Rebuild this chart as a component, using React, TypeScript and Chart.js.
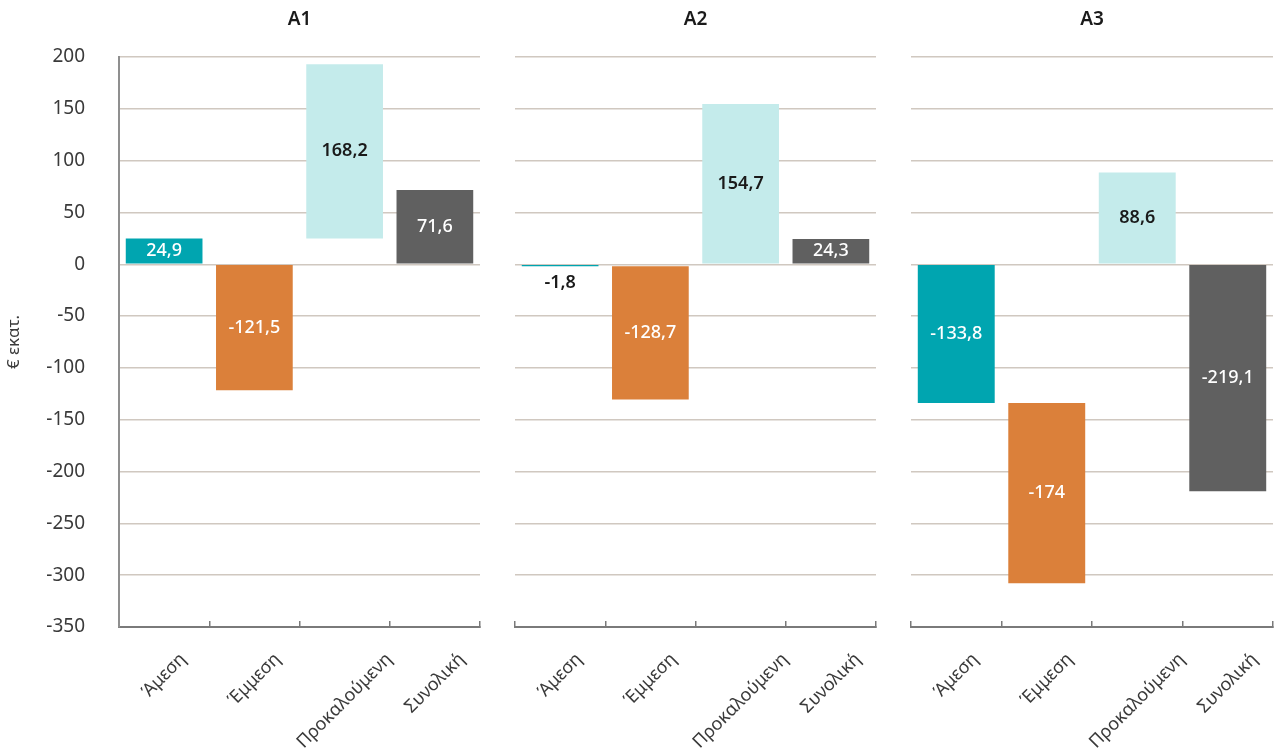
import React, { useEffect, useRef } from 'react';
import { Chart, registerables } from 'chart.js';

Chart.register(...registerables);

// ---------- data ----------
const categories = ['Άμεση', 'Έμμεση', 'Προκαλούμενη', 'Συνολική'];
const panelTitles = ['A1', 'A2', 'A3'];

const a1Values = [24.9, -121.5, 168.2, 71.6];
const a1Starts = [0, 0, 24.9, 0];

const a2Values = [-1.8, -128.7, 154.7, 24.3];
const a2Starts = [0, -1.8, 0, 0];

const a3Values = [-133.8, -174, 88.6, -219.1];
const a3Starts = [0, -133.8, 0, 0];

const yMin = -350;
const yMax = 200;
const yStep = 50;
const yAxisTitle = '€ εκατ.';

// ---------- styles ----------
const FONT = '"Noto Sans", "DejaVu Sans", sans-serif';
const BAR_COLORS = ['#00A5B0', '#DB803A', '#C4EBEB', '#606060'];
const LABEL_COLORS = ['#FFFFFF', '#FFFFFF', '#1A1A1A', '#FFFFFF'];
const TEXT_COLOR = '#3A3A3A';
const GRID_COLOR = '#D0C8C0';
const CANVAS_H = 754;
const PLOT_TOP = 57;
const PLOT_BOTTOM = 627;

const panels = [
  { title: panelTitles[0], values: a1Values, starts: a1Starts, left: 0, width: 490, yWidth: 119, padRight: 10, first: true },
  { title: panelTitles[1], values: a2Values, starts: a2Starts, left: 490, width: 396, yWidth: 25, padRight: 10, first: false },
  { title: panelTitles[2], values: a3Values, starts: a3Starts, left: 886, width: 388, yWidth: 25, padRight: 1, first: false },
];

const valueLabelPlugin = {
  id: 'valueLabels',
  afterDatasetsDraw(chart: any, _args: any, opts: any) {
    const { ctx } = chart;
    const meta = chart.getDatasetMeta(0);
    const values: number[] = opts.values || [];
    ctx.save();
    ctx.textAlign = 'center';
    ctx.textBaseline = 'middle';
    meta.data.forEach((el: any, i: number) => {
      const { x, y, base } = el.getProps(['x', 'y', 'base'], true);
      const h = Math.abs(base - y);
      const text = String(values[i]).replace('.', ',');
      let ty = (y + base) / 2;
      let color = LABEL_COLORS[i];
      if (h < 24) {
        ty = Math.max(y, base) + 17;
        color = '#1A1A1A';
      }
      ctx.font = color === '#1A1A1A' ? `600 18px ${FONT}` : `500 18px ${FONT}`;
      ctx.fillStyle = color;
      ctx.fillText(text, x, ty);
    });
    ctx.restore();
  },
};

// category labels, rotated 45° and centred under each category (as in the reference)
const xLabelPlugin = {
  id: 'xLabels',
  afterDraw(chart: any) {
    const { ctx } = chart;
    const xs = chart.scales.x;
    const labels: string[] = chart.data.labels;
    ctx.save();
    ctx.font = `18px ${FONT}`;
    ctx.fillStyle = TEXT_COLOR;
    ctx.textAlign = 'center';
    ctx.textBaseline = 'middle';
    labels.forEach((lab, i) => {
      const cx = xs.getPixelForValue(i);
      const w = ctx.measureText(lab).width;
      const h = 15;
      const cy = xs.top + 24 + ((w + h) * Math.SQRT1_2) / 2;
      ctx.save();
      ctx.translate(cx, cy);
      ctx.rotate(-Math.PI / 4);
      ctx.fillText(lab, 0, 0);
      ctx.restore();
    });
    ctx.restore();
  },
};

function Panel(props: any) {
  const { p } = props;
  const ref = useRef<HTMLCanvasElement | null>(null);

  useEffect(() => {
    if (!ref.current) return;
    const chart = new Chart(ref.current, {
      type: 'bar',
      data: {
        labels: categories,
        datasets: [
          {
            data: p.values.map((v: number, i: number) => [p.starts[i], p.starts[i] + v]),
            backgroundColor: BAR_COLORS,
            borderWidth: 0,
            barPercentage: 0.85,
            categoryPercentage: 1,
          },
        ],
      },
      options: {
        responsive: false,
        animation: false,
        devicePixelRatio: 1,
        layout: { padding: { left: 0, right: p.padRight, top: 0, bottom: 0 } },
        plugins: {
          legend: { display: false },
          tooltip: { enabled: false },
          title: {
            display: true,
            text: p.title,
            fullSize: false,
            color: '#1A1A1A',
            font: { family: FONT, size: 19, weight: '600' },
            padding: { top: 8, bottom: PLOT_TOP - 8 - 22.8 },
          },
          valueLabels: { values: p.values },
        } as any,
        scales: {
          x: {
            grid: {
              display: true,
              drawOnChartArea: false,
              drawTicks: true,
              tickLength: -6,
              color: '#7A7A7A',
              lineWidth: 1.5,
              offset: true,
            },
            border: { display: true, color: '#7A7A7A', width: 2 },
            ticks: { display: false },
            afterFit(scale: any) {
              scale.height = CANVAS_H - PLOT_BOTTOM;
              scale.paddingLeft = 0;
              scale.paddingRight = 0;
            },
          },
          y: {
            min: yMin,
            max: yMax,
            grid: { color: GRID_COLOR, lineWidth: 1.5, drawTicks: false },
            border: { display: p.first, color: '#8F8F8F', width: 2 },
            ticks: {
              display: p.first,
              stepSize: yStep,
              padding: 34,
              color: TEXT_COLOR,
              font: { family: FONT, size: 19 },
            },
            title: {
              display: p.first,
              text: yAxisTitle,
              color: TEXT_COLOR,
              font: { family: FONT, size: 17 },
              padding: { top: 4, bottom: 0 },
            },
            afterFit(scale: any) {
              scale.width = p.yWidth;
              scale.paddingTop = 0;
              scale.paddingBottom = 0;
            },
          },
        },
      } as any,
      plugins: [valueLabelPlugin, xLabelPlugin],
    });
    return () => chart.destroy();
  }, [p]);

  return (
    <canvas
      ref={ref}
      width={p.width}
      height={CANVAS_H}
      style={{ position: 'absolute', left: p.left, top: 0, width: p.width, height: CANVAS_H, display: 'block' }}
    />
  );
}

export default function App() {
  return (
    <div style={{ position: 'fixed', left: 0, top: 0, width: 1274, height: 754, background: '#FFFFFF', overflow: 'hidden' }}>
      {panels.map((p) => (
        <Panel key={p.title} p={p} />
      ))}
    </div>
  );
}
